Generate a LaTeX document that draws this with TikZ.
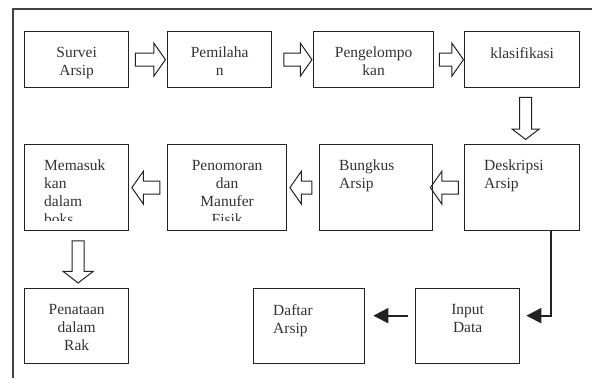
\documentclass[tikz,border=0pt]{standalone}
\usepackage{fontspec}
\setmainfont{Liberation Serif}
\usetikzlibrary{calc,arrows.meta,shapes.arrows}
\definecolor{boxline}{HTML}{222222}
\definecolor{boxtext}{HTML}{333333}
\tikzset{
  box/.style={draw=boxline, line width=1.3pt, inner sep=0pt, anchor=north west},
  lbl/.style={text=boxtext, inner sep=0pt, font=\fontsize{15.5}{18}\selectfont},
  mid/.style={lbl, align=center, anchor=north, yshift=-16pt},
  lft/.style={lbl, align=left, anchor=north west, xshift=20pt, yshift=-16pt},
  hollow/.style={single arrow, draw=boxline, line width=1pt, inner sep=0pt,
    text height=6pt, text depth=6pt, minimum height=28pt,
    single arrow head extend=10pt, single arrow tip angle=110,
    single arrow head indent=0pt},
  hollowdown/.style={hollow, rotate=-90, minimum height=42pt,
    text height=5.5pt, text depth=5.5pt,
    single arrow head extend=7.5pt, single arrow tip angle=105},
  flow/.style={draw=boxline, line width=1.8pt, -{Triangle[length=15pt,width=15pt]}}
}
\begin{document}
\begin{tikzpicture}[x=1pt,y=-1pt]
  \useasboundingbox (0,0) rectangle (592,378);
  \draw[line width=1.2pt, color=boxline!85] (592,9) -- (13,9) -- (13,378);
  \node[box, minimum width=104pt, minimum height=56pt] (survei) at (24,31) {};
  \node[box, minimum width=104pt, minimum height=56pt] (pemilah) at (167,31) {};
  \node[box, minimum width=120pt, minimum height=56pt] (kelompok) at (313,31) {};
  \node[box, minimum width=115pt, minimum height=56pt] (klasifikasi) at (464,31) {};
  \node[box, minimum width=104pt, minimum height=86pt] (memasuk) at (24,144) {};
  \node[box, minimum width=119pt, minimum height=86pt] (penomoran) at (167,144) {};
  \node[box, minimum width=113pt, minimum height=86pt] (bungkus) at (319,144) {};
  \node[box, minimum width=115pt, minimum height=86pt] (deskripsi) at (464,144) {};
  \node[box, minimum width=104pt, minimum height=75pt] (penataan) at (24,288) {};
  \node[box, minimum width=111pt, minimum height=75pt] (daftar) at (253,288) {};
  \node[box, minimum width=104pt, minimum height=75pt] (input) at (415,288) {};
  \node[mid] (survei-t) at (survei.north) {Survei\\Arsip};
  \node[mid] (pemilah-t) at (pemilah.north) {Pemilaha\\n};
  \node[mid] (kelompok-t) at (kelompok.north) {Pengelompo\\kan};
  \node[mid] (klasifikasi-t) at (klasifikasi.north) {klasifikasi};
  \begin{scope}
    \clip (memasuk.north west) rectangle ([yshift=11pt]penomoran.south east);
    \node[lft] (memasuk-t) at (memasuk.north west) {Memasuk\\kan\\dalam\\boks};
    \node[mid] (penomoran-t) at (penomoran.north) {Penomoran\\dan\\Manufer\\Fisik};
  \end{scope}
  \node[lft] (bungkus-t) at (bungkus.north west) {Bungkus\\Arsip};
  \node[lft] (deskripsi-t) at (deskripsi.north west) {Deskripsi\\Arsip};
  \node[mid] (penataan-t) at (penataan.north) {Penataan\\dalam\\Rak};
  \node[lft] (daftar-t) at (daftar.north west) {Daftar\\Arsip};
  \node[mid] (input-t) at (input.north) {Input\\Data};
  \begin{scope}[yshift=3pt]
    \node[hollow, minimum height=30pt] (a1) at ($(survei.east)!.5!(pemilah.west)$) {};
    \node[hollow] (a2) at ($(pemilah.east)!.5!(kelompok.west)+(3,0)$) {};
    \node[hollow, minimum height=24pt] (a3) at ($(kelompok.east)!.5!(klasifikasi.west)$) {};
  \end{scope}
  \node[hollowdown] (a4) at ($(klasifikasi.south)!.5!(deskripsi.north)+(3.5,0)$) {};
  \node[hollow, rotate=180] (a5) at ($(deskripsi.west)!.5!(bungkus.east)+(-2,0)$) {};
  \node[hollow, rotate=180, minimum height=22pt] (a6) at ($(bungkus.west)!.5!(penomoran.east)$) {};
  \node[hollow, rotate=180] (a7) at ($(penomoran.west)!.5!(memasuk.east)$) {};
  \node[hollowdown, single arrow head extend=9pt] (a8) at ($(memasuk.south)!.5!(penataan.north)+(1.5,0)$) {};
  \draw[flow, shorten >=6pt] ([xshift=28.5pt]deskripsi.south) |- ([yshift=10.5pt]input.east);
  \draw[flow, shorten <=7pt, shorten >=8pt] ([yshift=10.5pt]input.west) -- ([yshift=10.5pt]daftar.east);
\end{tikzpicture}
\end{document}
